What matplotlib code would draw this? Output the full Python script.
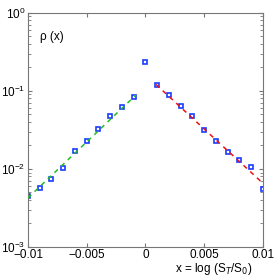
import numpy as np
import matplotlib.pyplot as plt
from matplotlib.ticker import LogLocator, FixedLocator

plt.rcParams['font.family'] = ['Liberation Sans', 'DejaVu Sans']

# measured density points
x_pts = [-0.010, -0.009, -0.008, -0.007, -0.006, -0.005, -0.004, -0.003, -0.002, -0.001,
         0.000, 0.001, 0.002, 0.003, 0.004, 0.005, 0.006, 0.007, 0.008, 0.009, 0.010]
rho_pts = [0.0045, 0.00565, 0.0074, 0.0103, 0.017, 0.0231, 0.0323, 0.0478, 0.063, 0.0845,
           0.233, 0.119, 0.088, 0.0648, 0.0478, 0.0313, 0.0229, 0.0165, 0.0129, 0.0106, 0.0055]

# exponential fit lines (endpoints)
left_fit_x = [-0.010, -0.0008]
left_fit_y = [0.00425, 0.0889]
right_fit_x = [0.0009, 0.010]
right_fit_y = [0.121, 0.00656]

fig = plt.figure(figsize=(2.77, 2.80), dpi=100)
ax = fig.add_axes([0.101, 0.118, 0.848, 0.836])

ax.plot(x_pts, rho_pts, 's', ms=3.4, mfc='white', mec='#1a3cff', mew=1.2, ls='none', zorder=2)
ax.plot(left_fit_x, left_fit_y, '--', color='#22bb22', lw=1.1, dashes=(3, 3), zorder=3)
ax.plot(right_fit_x, right_fit_y, '--', color='#ee1111', lw=1.1, dashes=(3, 3), zorder=3)

ax.set_yscale('log')
ax.set_xlim(-0.01, 0.01)
ax.set_ylim(1e-3, 1)
ax.xaxis.set_major_locator(FixedLocator([-0.01, -0.005, 0, 0.005, 0.01]))
ax.set_xticklabels(['\u22120.01', '\u22120.005', '0', '0.005', '0.01'])
ax.yaxis.set_major_locator(LogLocator(base=10, numticks=10))
ax.yaxis.set_minor_locator(LogLocator(base=10, subs=np.arange(2, 10), numticks=10))

for s in ax.spines.values():
    s.set_color('#777777')
ax.tick_params(which='both', direction='in', top=True, right=True, colors='#777777',
               labelcolor='black', labelsize=8.5, pad=2)
ax.tick_params(axis='x', pad=1.5)
ax.tick_params(which='major', length=3)
ax.tick_params(which='minor', length=2)

ax.text(0.05, 0.895, '\u03c1 (x)', transform=ax.transAxes, fontsize=8.5, va='center')
ax.set_xlabel('x = log (S$_T$/S$_0$)', fontsize=8.5)
ax.xaxis.set_label_coords(0.79, -0.062)

fig.savefig('out.png', dpi=100)
